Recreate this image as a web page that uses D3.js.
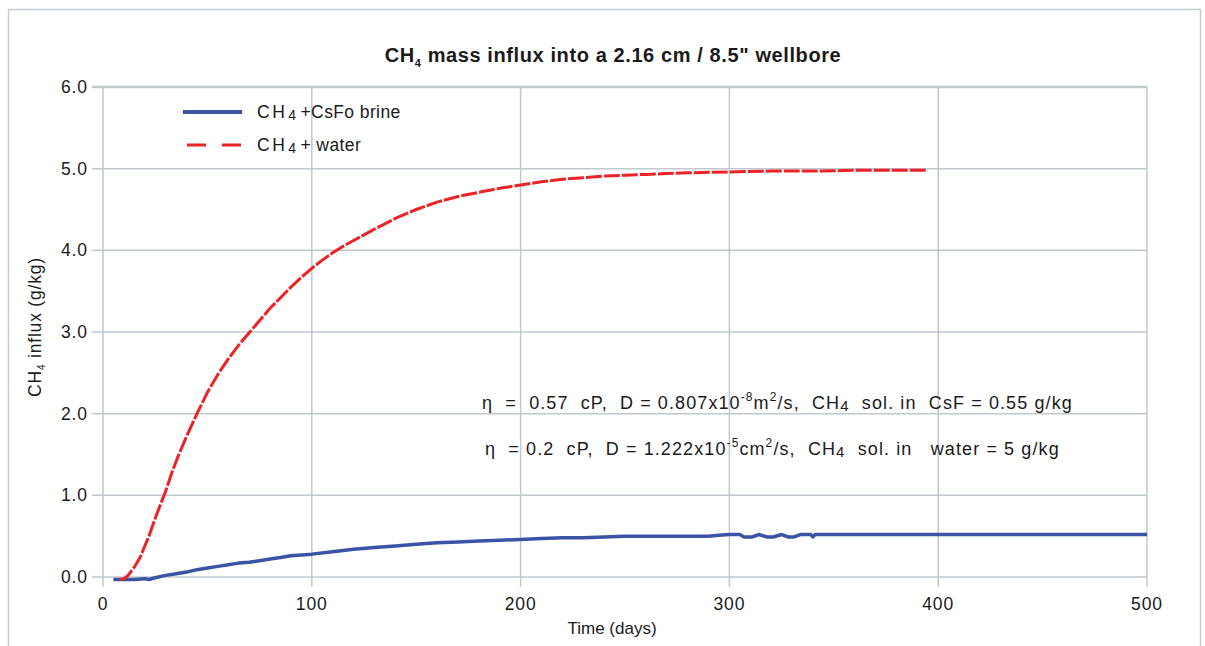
<!DOCTYPE html>
<html>
<head>
<meta charset="utf-8">
<script src="https://cdn.jsdelivr.net/npm/d3@7"></script>
<style>
  body { margin: 0; background: #fff; }
  text { font-family: "Liberation Sans", Arial, sans-serif; fill: #1a1a1a; white-space: pre; }
</style>
</head>
<body>
<div id="chart"></div>
<script>
// time (days) and influx (g/kg)
const waterDays = [8, 10, 12, 15, 18, 20, 22, 25, 28, 30, 33, 36, 40, 45, 50, 55, 60, 65, 70, 75,
  80, 85, 90, 95, 100, 105, 110, 115, 120, 130, 140, 150, 160, 170, 180, 190, 200, 210, 220,
  230, 240, 250, 260, 270, 280, 300, 320, 340, 360, 395]
const waterInflux = [-0.03, -0.02, 0.02, 0.12, 0.25, 0.38, 0.5, 0.72, 0.92, 1.05, 1.28, 1.48, 1.72,
  2.0, 2.26, 2.48, 2.67, 2.84, 2.99, 3.14, 3.29, 3.42, 3.55, 3.67, 3.78, 3.88, 3.97, 4.05, 4.12,
  4.26, 4.39, 4.5, 4.59, 4.66, 4.71, 4.76, 4.8, 4.84, 4.87, 4.89, 4.91, 4.92, 4.93, 4.94, 4.95,
  4.96, 4.97, 4.97, 4.98, 4.98]

const brineDays = [5, 10, 15, 20, 22, 25, 30, 35, 40, 45, 50, 55, 60, 65, 70, 75, 80, 85, 90, 95,
  100, 110, 120, 130, 140, 150, 160, 170, 180, 190, 200, 210, 220, 230, 240, 250, 260, 270, 280,
  290, 295, 300, 305, 307, 311, 314, 318, 321, 325, 328, 331, 334, 339, 340, 341, 345, 400, 450, 500]
const brineInflux = [-0.03, -0.03, -0.03, -0.02, -0.03, -0.01, 0.02, 0.04, 0.06, 0.09, 0.11, 0.13,
  0.15, 0.17, 0.18, 0.2, 0.22, 0.24, 0.26, 0.27, 0.28, 0.31, 0.34, 0.36, 0.38, 0.4, 0.42, 0.43,
  0.44, 0.45, 0.46, 0.47, 0.48, 0.48, 0.49, 0.5, 0.5, 0.5, 0.5, 0.5, 0.51, 0.52, 0.52, 0.49, 0.49,
  0.52, 0.49, 0.49, 0.52, 0.49, 0.49, 0.52, 0.52, 0.49, 0.52, 0.52, 0.52, 0.52, 0.52]

const xTicks = [0, 100, 200, 300, 400, 500]
const yTicks = [0, 1, 2, 3, 4, 5, 6]

const W = 1205, H = 646
const margin = { left: 103, right: 58, top: 87, bottom: 69 }

const svg = d3.select('#chart').append('svg').attr('width', W).attr('height', H)

// outer frame
svg.append('rect').attr('x', 8.5).attr('y', 9.5).attr('width', 1192).attr('height', 660).
  attr('fill', 'none').attr('stroke', '#c5ccd0').attr('stroke-width', 1.5)

const x = d3.scaleLinear().domain([0, 500]).range([margin.left, W - margin.right])
const y = d3.scaleLinear().domain([0, 6]).range([H - margin.bottom, margin.top])

// grid
const grid = svg.append('g').attr('stroke', '#c0c9ce').attr('stroke-width', 1.5)
grid.selectAll('.gy').data(yTicks).enter().append('line').
  attr('x1', x(0) - 11).attr('x2', x(500)).
  attr('y1', d => y(d)).attr('y2', d => y(d)).
  attr('stroke-width', d => d === 6 ? 2.5 : 1.5)
grid.selectAll('.gx').data(xTicks).enter().append('line').
  attr('x1', d => x(d)).attr('x2', d => x(d)).
  attr('y1', y(6)).attr('y2', y(0) + 10)

// tick labels
svg.append('g').selectAll('text').data(yTicks).enter().append('text').
  attr('x', x(0) - 15).attr('y', d => y(d) + 6).attr('text-anchor', 'end').
  attr('font-size', 17.5).style('letter-spacing', '0.9px').
  text(d => d3.format('.1f')(d))
svg.append('g').selectAll('text').data(xTicks).enter().append('text').
  attr('x', d => x(d)).attr('y', y(0) + 33).attr('text-anchor', 'middle').
  attr('font-size', 17.5).style('letter-spacing', '0.9px').
  text(d => d)

// axis titles
svg.append('text').attr('x', 612).attr('y', 634).attr('text-anchor', 'middle').
  attr('font-size', 17).text('Time (days)')
const yl = svg.append('text').attr('transform', 'translate(41,327) rotate(-90)').
  attr('text-anchor', 'middle').attr('font-size', 17.5).style('letter-spacing', '0.8px')
yl.append('tspan').text('CH')
yl.append('tspan').attr('font-size', 10).attr('dy', 4).text('4')
yl.append('tspan').attr('dy', -4).text(' influx (g/kg)')

// title
const tt = svg.append('text').attr('x', 613).attr('y', 62).
  attr('text-anchor', 'middle').attr('font-size', 20).attr('font-weight', 'bold').
  style('letter-spacing', '0.6px')
tt.append('tspan').text('CH')
tt.append('tspan').attr('font-size', 11).attr('dy', 5).text('4')
tt.append('tspan').attr('dy', -5).text(' mass influx into a 2.16 cm / 8.5" wellbore')

// curves
const line = d3.line().x(d => x(d[0])).y(d => y(d[1]))
svg.append('path').datum(d3.zip(brineDays, brineInflux)).attr('d', line).
  attr('fill', 'none').attr('stroke', '#3a53a4').attr('stroke-width', 3.5).
  attr('stroke-linejoin', 'round')
svg.append('path').datum(d3.zip(waterDays, waterInflux)).attr('d', line).
  attr('fill', 'none').attr('stroke', '#ec2227').attr('stroke-width', 3).
  attr('stroke-dasharray', '16,2')

// legend
const lg = svg.append('g')
lg.append('line').attr('x1', 183).attr('x2', 242).attr('y1', 112).attr('y2', 112).
  attr('stroke', '#3a53a4').attr('stroke-width', 4)
lg.append('line').attr('x1', 187).attr('x2', 241).attr('y1', 145).attr('y2', 145).
  attr('stroke', '#ec2227').attr('stroke-width', 3).attr('stroke-dasharray', '19,16')
const legendLabels = ['+CsFo brine', '+ water']
legendLabels.forEach((lab, i) => {
  const t = lg.append('text').attr('x', 257).attr('y', 118 + i * 33).attr('font-size', 17.5).
    style('letter-spacing', '0.4px')
  t.append('tspan').style('letter-spacing', '2.5px').text('CH')
  t.append('tspan').attr('font-size', 14).attr('dy', 2).attr('dx', 1).text('4')
  t.append('tspan').attr('dy', -2).attr('dx', 4).text(lab)
})

// annotations
function note (yy, xx, parts) {
  const t = svg.append('text').attr('x', xx).attr('y', yy).attr('font-size', 18).
    style('letter-spacing', '1.1px')
  parts.forEach(p => {
    const s = t.append('tspan').text(p[0])
    if (p[1]) s.attr('font-size', p[1])
    if (p[2]) s.attr('dy', p[2])
  })
}
note(409, 482, [['η  =  0.57  cP,  D = 0.807x10'], ['-8', 12, -8], ['m', null, 8], ['2', 12, -8],
  ['/s,  CH', null, 8], ['4', 15, 2], ['  sol. in  CsF = 0.55 g/kg', null, -2]])
note(455, 485, [['η  = 0.2  cP,  D = 1.222x10'], ['-5', 12, -8], ['cm', null, 8], ['2', 12, -8],
  ['/s,  CH', null, 8], ['4', 15, 2], ['  sol. in   water = 5 g/kg', null, -2]])
</script>
</body>
</html>
